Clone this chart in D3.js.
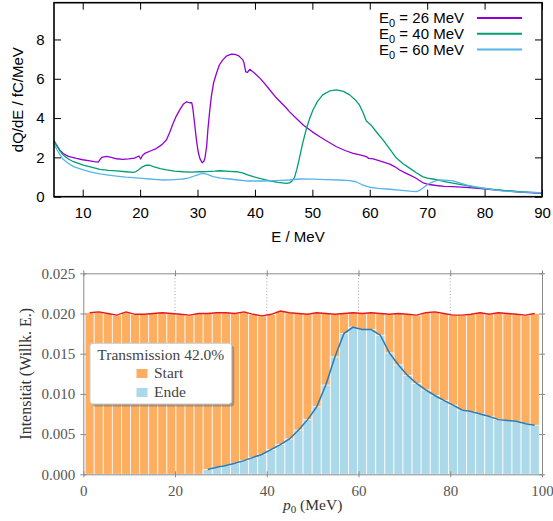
<!DOCTYPE html>
<html>
<head>
<meta charset="utf-8">
<script src="https://cdn.jsdelivr.net/npm/d3@7"></script>
<style>
  body { margin: 0; background: #fff; }
  svg { display: block; }
</style>
</head>
<body>
<div id="chart"></div>
<script>
// ----------------------------
// Data: upper panel (dQ/dE spectra)
// ----------------------------
const e26E = [5.0,5.5,6.0,6.6,7.5,8.9,10.0,11.0,12.0,12.7,13.3,14.2,15.0,15.9,17.0,18.0,19.0,19.8,20.1,20.4,20.8,22.0,22.8,23.8,24.6,25.2,25.7,26.3,26.9,27.5,28.1,28.6,29.0,29.2,29.5,29.8,30.1,30.4,30.8,31.1,31.3,31.6,31.8,32.1,32.4,32.8,33.3,33.8,34.4,35.1,35.9,36.5,37.1,37.6,37.9,38.1,38.4,38.7,39.1,40.0,40.9,41.7,42.6,43.5,44.4,45.5,46.0,47.5,48.4,50.0,51.3,52.8,54.2,55.7,57.1,58.5,59.4,59.8,60.6,62.0,63.5,64.4,65.2,66.0,67.0,68.0,69.2,70.3,71.6,73.0,74.5,77.3,80.3,83.2,86.1,90.0];
const e26Q = [2.82,2.6,2.38,2.2,2.05,1.95,1.88,1.84,1.78,1.76,2.0,2.05,2.0,1.93,1.9,1.92,1.96,2.07,1.92,2.1,2.2,2.35,2.45,2.65,2.9,3.3,3.7,4.1,4.42,4.7,4.83,4.78,4.78,4.45,3.7,2.9,2.3,1.95,1.73,1.8,1.97,2.6,3.4,4.3,5.09,5.8,6.28,6.7,6.96,7.17,7.25,7.24,7.18,7.05,6.96,6.8,6.35,6.32,6.48,6.27,6.02,5.75,5.43,5.1,4.83,4.5,4.33,3.9,3.65,3.3,3.05,2.78,2.54,2.35,2.21,2.12,2.04,1.95,1.92,1.8,1.66,1.52,1.36,1.24,1.1,0.95,0.72,0.62,0.57,0.53,0.51,0.46,0.39,0.31,0.24,0.17];

const e40E = [5.0,5.5,6.0,6.6,7.5,8.4,10.1,11.5,13.0,14.5,15.9,17.5,18.8,19.3,19.7,20.4,21.1,21.7,22.3,23.5,24.6,26.0,27.5,29.0,30.4,31.5,33.0,33.9,35.5,36.8,38.0,38.6,39.7,41.0,42.6,44.0,45.5,46.0,46.4,46.9,47.3,47.7,48.3,48.9,49.5,50.1,50.9,51.8,53.0,54.2,55.4,56.5,57.4,58.2,58.8,59.4,60.2,61.2,62.3,63.5,64.6,65.8,67.0,68.1,69.2,70.0,71.0,72.0,73.3,74.7,76.2,78.0,79.7,81.5,83.7,86.5,90.0];
const e40Q = [2.85,2.6,2.35,2.12,1.92,1.78,1.61,1.5,1.39,1.34,1.31,1.27,1.24,1.28,1.36,1.52,1.61,1.6,1.53,1.43,1.36,1.3,1.27,1.25,1.27,1.28,1.3,1.32,1.29,1.27,1.2,1.12,1.02,0.92,0.81,0.73,0.68,0.7,0.78,0.98,1.4,1.9,2.7,3.39,3.95,4.41,4.85,5.18,5.38,5.43,5.36,5.18,4.95,4.67,4.3,3.85,3.65,3.28,2.89,2.42,1.98,1.68,1.44,1.22,1.02,0.95,0.9,0.84,0.76,0.68,0.6,0.5,0.43,0.37,0.31,0.25,0.19];

const e60E = [5.0,5.5,6.0,6.6,7.5,8.4,10.1,11.5,13.0,14.5,15.9,17.5,18.8,20.3,21.7,23.0,24.0,25.5,26.5,27.5,28.5,29.3,29.9,30.5,31.0,31.6,32.7,34.0,35.6,37.0,38.5,40.0,41.5,42.6,44.5,46.0,47.7,50.0,52.5,54.7,56.5,57.6,58.6,60.0,61.5,63.5,65.5,67.0,68.1,68.7,69.2,69.8,70.4,71.2,72.1,73.2,74.5,75.5,76.8,78.8,80.9,83.0,85.6,88.0,90.0];
const e60Q = [2.7,2.4,2.15,1.9,1.7,1.53,1.36,1.25,1.16,1.1,1.05,1.0,0.97,0.93,0.9,0.87,0.85,0.86,0.88,0.9,0.96,1.04,1.1,1.16,1.19,1.15,1.02,0.95,0.9,0.85,0.8,0.8,0.8,0.81,0.83,0.85,0.9,0.89,0.87,0.85,0.82,0.76,0.62,0.48,0.42,0.38,0.32,0.28,0.26,0.32,0.43,0.56,0.68,0.78,0.85,0.84,0.8,0.72,0.6,0.48,0.38,0.3,0.25,0.22,0.2];

const spectra = [
    { label: " = 26 MeV", energy: e26E, charge: e26Q, color: "#9400d3" },
    { label: " = 40 MeV", energy: e40E, charge: e40Q, color: "#009e73" },
    { label: " = 60 MeV", energy: e60E, charge: e60Q, color: "#56b4e9" }
];
const topXTicks = [10, 20, 30, 40, 50, 60, 70, 80, 90];
const topYTicks = [0, 2, 4, 6, 8];

// ----------------------------
// Data: lower panel (histogram of p0)
// ----------------------------
const binStart = 0.4;
const binWidth = 1.98;
const startCounts = [0.0201,0.0202,0.0200,0.0198,0.0202,0.0199,0.0199,0.0200,0.0201,0.0200,0.0199,0.0198,0.0200,0.0200,0.0201,0.0201,0.0200,0.0202,0.0199,0.0197,0.0199,0.0203,0.0201,0.0200,0.0199,0.0201,0.0200,0.0199,0.0200,0.0201,0.0200,0.0201,0.0200,0.0199,0.0200,0.0199,0.0198,0.0201,0.0202,0.0200,0.0198,0.0198,0.0199,0.0201,0.0199,0.0201,0.0200,0.0199,0.0198,0.0200];
const endCounts = [null,null,null,null,null,null,null,null,null,null,null,null,null,0.0006,0.00087,0.0011,0.00137,0.0017,0.0021,0.0025,0.0031,0.0037,0.0044,0.0055,0.0068,0.0084,0.0111,0.0146,0.0175,0.0183,0.0180,0.0180,0.0173,0.0151,0.0136,0.0123,0.0113,0.0105,0.0098,0.0092,0.0086,0.0080,0.0078,0.0075,0.0072,0.0068,0.0067,0.0066,0.0063,0.0061];
const botXTicks = [0, 20, 40, 60, 80, 100];
const botYTicks = [0, 0.005, 0.010, 0.015, 0.020, 0.025];
const gridX = [20, 40, 60, 80];

const width = 553;
const height = 521;

const svg = d3.select("#chart").append("svg")
    .attr("width", width)
    .attr("height", height)
    .attr("viewBox", [0, 0, width, height]);

// ----------------------------
// Upper panel
// ----------------------------
const sans = "'Liberation Sans', Arial, Helvetica, sans-serif";
const x1 = d3.scaleLinear().domain([5, 90]).range([54, 542]);
const y1 = d3.scaleLinear().domain([0, 9.87]).range([196.7, 2.7]);

const gTop = svg.append("g").style("font-family", sans);

const line1 = d3.line()
    .x(d => x1(d[0]))
    .y(d => y1(d[1]));

spectra.forEach(s => {
    gTop.append("path")
        .datum(d3.zip(s.energy, s.charge))
        .attr("fill", "none")
        .attr("stroke", s.color)
        .attr("stroke-width", 1.3)
        .attr("stroke-linejoin", "round")
        .attr("d", line1);
});

// axes with inward ticks (gnuplot style, mirrored)
function styleTop(g) {
    g.select(".domain").remove();
    g.selectAll("line").attr("stroke", "#000").attr("stroke-width", 1);
    g.selectAll("text").attr("fill", "#000").style("font-size", "15px").style("font-family", sans);
}

gTop.append("g")
    .attr("transform", `translate(0,${y1(0)})`)
    .call(d3.axisBottom(x1).tickValues(topXTicks).tickSize(-7).tickPadding(11))
    .call(styleTop);
gTop.append("g")
    .attr("transform", `translate(0,${y1.range()[1]})`)
    .call(d3.axisTop(x1).tickValues(topXTicks).tickSize(-7).tickFormat(""))
    .call(styleTop);
gTop.append("g")
    .attr("transform", `translate(${x1(5)},0)`)
    .call(d3.axisLeft(y1).tickValues(topYTicks).tickSize(-7).tickPadding(9.5))
    .call(styleTop);
gTop.append("g")
    .attr("transform", `translate(${x1(90)},0)`)
    .call(d3.axisRight(y1).tickValues(topYTicks).tickSize(-7).tickFormat(""))
    .call(styleTop);

gTop.append("rect")
    .attr("x", x1(5)).attr("y", y1.range()[1])
    .attr("width", x1(90) - x1(5)).attr("height", y1(0) - y1.range()[1])
    .attr("fill", "none").attr("stroke", "#000").attr("stroke-width", 1.6);

gTop.append("text")
    .attr("x", (x1(5) + x1(90)) / 2).attr("y", 241.5)
    .attr("text-anchor", "middle").style("font-size", "15px")
    .text("E / MeV");

gTop.append("text")
    .attr("transform", `translate(23,${(y1(0) + y1.range()[1]) / 2}) rotate(-90)`)
    .attr("text-anchor", "middle").style("font-size", "15px")
    .text("dQ/dE / fC/MeV");

// legend
spectra.forEach((s, i) => {
    const yRow = 18 + i * 15.8;
    const t = gTop.append("text")
        .attr("x", 464).attr("y", yRow + 5)
        .attr("text-anchor", "end").style("font-size", "15px");
    t.append("tspan").text("E");
    t.append("tspan").attr("dy", 4).style("font-size", "11px").text("0");
    t.append("tspan").attr("dy", -4).text(s.label);
    gTop.append("line")
        .attr("x1", 477).attr("x2", 522)
        .attr("y1", yRow).attr("y2", yRow)
        .attr("stroke", s.color).attr("stroke-width", 2);
});

// ----------------------------
// Lower panel
// ----------------------------
const serif = "'Liberation Serif', 'Times New Roman', serif";
const x2 = d3.scaleLinear().domain([0, 100]).range([83.3, 542]);
const y2 = d3.scaleLinear().domain([0, 0.025]).range([474.3, 273.3]);
const spine = "#8a8a8a";
const tickText = "#555";

const gBot = svg.append("g").style("font-family", serif);

// dotted vertical grid
gBot.append("g")
    .selectAll("line")
    .data(gridX)
    .join("line")
        .attr("x1", d => x2(d)).attr("x2", d => x2(d))
        .attr("y1", y2(0)).attr("y2", y2(0.025))
        .attr("stroke", "#999").attr("stroke-width", 0.9)
        .attr("stroke-dasharray", "1,2.2");

const bins = startCounts.map((v, i) => ({
    x0: binStart + i * binWidth,
    x1: binStart + (i + 1) * binWidth,
    start: v,
    end: endCounts[i]
}));

// Start histogram
gBot.append("g")
    .selectAll("rect")
    .data(bins)
    .join("rect")
        .attr("x", d => x2(d.x0))
        .attr("y", d => y2(d.start))
        .attr("width", d => x2(d.x1) - x2(d.x0))
        .attr("height", d => y2(0) - y2(d.start))
        .attr("fill", "#fdae61")
        .attr("stroke", "#fff").attr("stroke-opacity", 0.8).attr("stroke-width", 0.9);

// Ende histogram
const endBins = bins.filter(d => d.end !== null);
gBot.append("g")
    .selectAll("rect")
    .data(endBins)
    .join("rect")
        .attr("x", d => x2(d.x0))
        .attr("y", d => y2(d.end))
        .attr("width", d => x2(d.x1) - x2(d.x0))
        .attr("height", d => y2(0) - y2(d.end))
        .attr("fill", "#abd9e9")
        .attr("stroke", "#fff").attr("stroke-opacity", 0.8).attr("stroke-width", 0.9);

const mid = d => (d.x0 + d.x1) / 2;
gBot.append("path")
    .datum(bins)
    .attr("fill", "none").attr("stroke", "#e31a1c").attr("stroke-width", 1.4)
    .attr("d", d3.line().x(d => x2(mid(d))).y(d => y2(d.start)));
gBot.append("path")
    .datum(endBins)
    .attr("fill", "none").attr("stroke", "#2c7bb6").attr("stroke-width", 1.5)
    .attr("d", d3.line().x(d => x2(mid(d))).y(d => y2(d.end)));

// spines + in/out ticks
function styleBot(g, horizontal) {
    g.select(".domain").attr("stroke", spine).attr("stroke-width", 1);
    g.selectAll(".tick line").attr("stroke", spine).attr("stroke-width", 1)
        .attr(horizontal ? "y1" : "x1", horizontal ? -3 : 3);
    g.selectAll("text").attr("fill", tickText).style("font-size", "15px").style("font-family", serif);
}
gBot.append("g")
    .attr("transform", `translate(0,${y2(0)})`)
    .call(d3.axisBottom(x2).tickValues(botXTicks).tickSize(3).tickSizeOuter(0).tickPadding(8))
    .call(g => styleBot(g, true));
gBot.append("g")
    .attr("transform", `translate(0,${y2(0.025)})`)
    .call(d3.axisTop(x2).tickValues(botXTicks).tickSize(3).tickSizeOuter(0).tickFormat(""))
    .call(g => { styleBot(g, false); g.selectAll(".tick line").attr("x1", null).attr("y1", 3); });
gBot.append("g")
    .attr("transform", `translate(${x2(0)},0)`)
    .call(d3.axisLeft(y2).tickValues(botYTicks).tickSize(3).tickSizeOuter(0).tickPadding(5).tickFormat(d3.format(".3f")))
    .call(g => styleBot(g, false));
gBot.append("g")
    .attr("transform", `translate(${x2(100)},0)`)
    .call(d3.axisRight(y2).tickValues(botYTicks).tickSize(3).tickSizeOuter(0).tickFormat(""))
    .call(g => { styleBot(g, false); g.selectAll(".tick line").attr("x1", -3); });

// axis labels
const xl = gBot.append("text")
    .attr("x", (x2(0) + x2(100)) / 2).attr("y", 510)
    .attr("text-anchor", "middle").attr("fill", "#333").style("font-size", "15.5px");
xl.append("tspan").style("font-style", "italic").text("p");
xl.append("tspan").attr("dy", 3).style("font-size", "11px").text("0");
xl.append("tspan").attr("dy", -3).text(" (MeV)");

gBot.append("text")
    .attr("transform", `translate(31,${(y2(0) + y2(0.025)) / 2}) rotate(-90)`)
    .attr("text-anchor", "middle").attr("fill", "#333").style("font-size", "16px")
    .text("Intensität (Willk. E.)");

// legend
const lg = gBot.append("g");
lg.append("rect")
    .attr("x", 92.5).attr("y", 345.8).attr("width", 141.7).attr("height", 60.7)
    .attr("rx", 3).attr("fill", "#777").attr("opacity", 0.6);
lg.append("rect")
    .attr("x", 90).attr("y", 343.3).attr("width", 141.7).attr("height", 60.7)
    .attr("rx", 3).attr("fill", "#fff").attr("stroke", "#ccc").attr("stroke-width", 1);
lg.append("text")
    .attr("x", 160.8).attr("y", 360).attr("text-anchor", "middle")
    .attr("fill", "#444").style("font-size", "15.5px")
    .text("Transmission 42.0%");
[["Start", "#fdae61"], ["Ende", "#abd9e9"]].forEach(([name, col], i) => {
    lg.append("rect")
        .attr("x", 136.5).attr("y", 369 + i * 19).attr("width", 11).attr("height", 9)
        .attr("fill", col);
    lg.append("text")
        .attr("x", 154).attr("y", 377.8 + i * 19)
        .attr("fill", "#444").style("font-size", "15.5px")
        .text(name);
});
</script>
</body>
</html>
